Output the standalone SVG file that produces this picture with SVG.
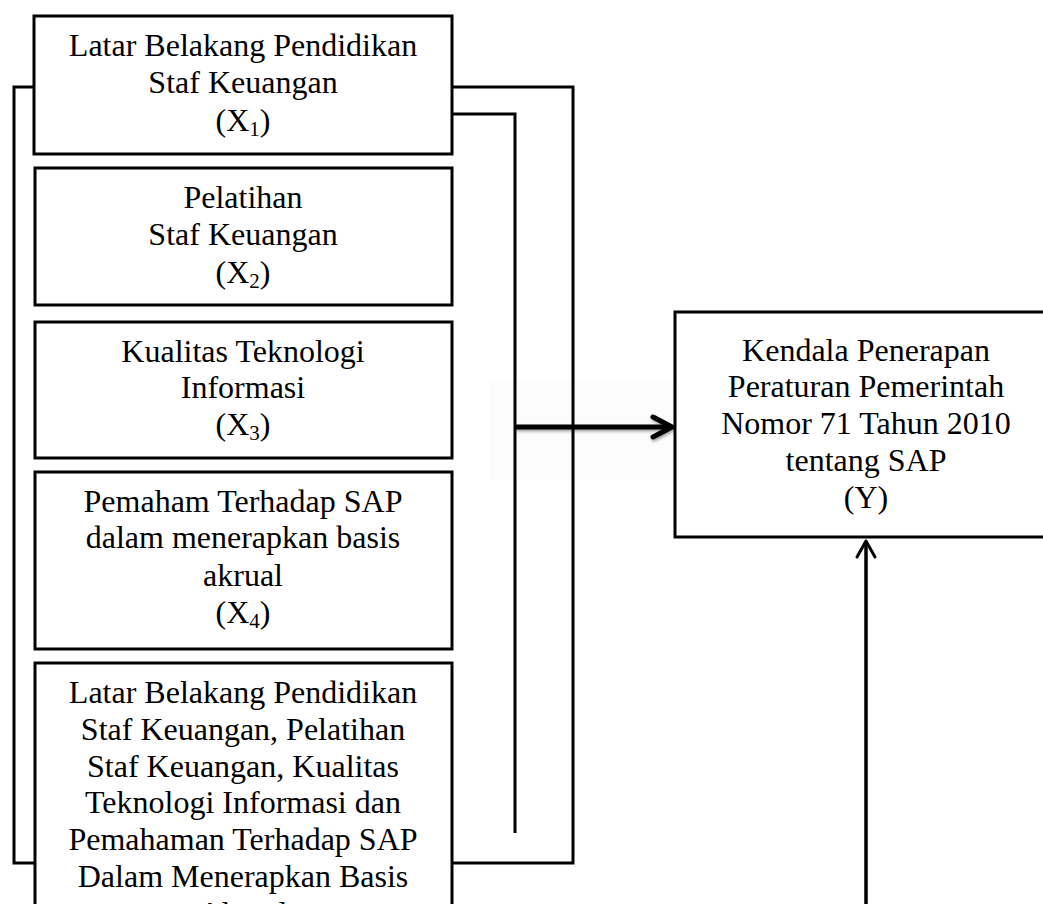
<svg xmlns="http://www.w3.org/2000/svg" width="1043" height="904" viewBox="0 0 1043 904">
  <style>
    .box { fill: #ffffff; stroke: #000000; stroke-width: 3; }
    .line { fill: none; stroke: #000000; stroke-width: 3; }
    .t { font-family: "Liberation Serif", "Times New Roman", serif; font-size: 32px; fill: #000000; text-anchor: middle; }
    .sub { font-size: 21px; }
  </style>
  <defs>
    <filter id="shadow" x="-10%" y="-100%" width="120%" height="300%">
      <feDropShadow dx="1" dy="2" stdDeviation="1.5" flood-color="#000000" flood-opacity="0.35"/>
    </filter>
  </defs>
  <rect width="1043" height="904" fill="#ffffff"/>

  <g id="connectors">
    <rect x="490" y="380" width="223" height="100" fill="#fcfcfc"/>
    <rect x="14" y="87" width="559" height="776" class="line"/>
    <path d="M452 114 H515 V833" class="line"/>
    <g filter="url(#shadow)">
      <path d="M515 427 H671" fill="none" stroke="#000" stroke-width="5"/>
      <path d="M653 417 L672 427 L653 437" fill="none" stroke="#000" stroke-width="5" stroke-linecap="round" stroke-linejoin="round"/>
    </g>
    <path d="M866 904 V541" fill="none" stroke="#000" stroke-width="3.5"/>
    <path d="M857 557 L866 541 L875 557" fill="none" stroke="#000" stroke-width="3" stroke-linecap="round" stroke-linejoin="round"/>
  </g>

  <g id="x1">
    <rect x="34" y="16" width="418" height="138" class="box"/>
    <text class="t" x="243" y="56">Latar Belakang Pendidikan</text>
    <text class="t" x="243" y="93">Staf Keuangan</text>
    <text class="t" x="243" y="131">(X<tspan class="sub" dy="5">1</tspan><tspan dy="-5">)</tspan></text>
  </g>

  <g id="x2">
    <rect x="35" y="168" width="417" height="137" class="box"/>
    <text class="t" x="243" y="208">Pelatihan</text>
    <text class="t" x="243" y="245">Staf Keuangan</text>
    <text class="t" x="243" y="283">(X<tspan class="sub" dy="5">2</tspan><tspan dy="-5">)</tspan></text>
  </g>

  <g id="x3">
    <rect x="35" y="322" width="417" height="136" class="box"/>
    <text class="t" x="243" y="362">Kualitas Teknologi</text>
    <text class="t" x="243" y="398">Informasi</text>
    <text class="t" x="243" y="435">(X<tspan class="sub" dy="5">3</tspan><tspan dy="-5">)</tspan></text>
  </g>

  <g id="x4">
    <rect x="35" y="472" width="417" height="177" class="box"/>
    <text class="t" x="243" y="512">Pemaham Terhadap SAP</text>
    <text class="t" x="243" y="548">dalam menerapkan basis</text>
    <text class="t" x="243" y="586">akrual</text>
    <text class="t" x="243" y="623">(X<tspan class="sub" dy="5">4</tspan><tspan dy="-5">)</tspan></text>
  </g>

  <g id="x5">
    <rect x="35" y="663" width="417" height="280" class="box"/>
    <text class="t" x="243" y="703">Latar Belakang Pendidikan</text>
    <text class="t" x="243" y="740">Staf Keuangan, Pelatihan</text>
    <text class="t" x="243" y="777">Staf Keuangan, Kualitas</text>
    <text class="t" x="243" y="813">Teknologi Informasi dan</text>
    <text class="t" x="243" y="850">Pemahaman Terhadap SAP</text>
    <text class="t" x="243" y="887">Dalam Menerapkan Basis</text>
    <text class="t" x="243" y="924">Akrual</text>
  </g>

  <g id="y">
    <rect x="675" y="312" width="390" height="225" class="box"/>
    <text class="t" x="866" y="361">Kendala Penerapan</text>
    <text class="t" x="866" y="397">Peraturan Pemerintah</text>
    <text class="t" x="866" y="434">Nomor 71 Tahun 2010</text>
    <text class="t" x="866" y="471">tentang SAP</text>
    <text class="t" x="866" y="508">(Y)</text>
  </g>
</svg>
